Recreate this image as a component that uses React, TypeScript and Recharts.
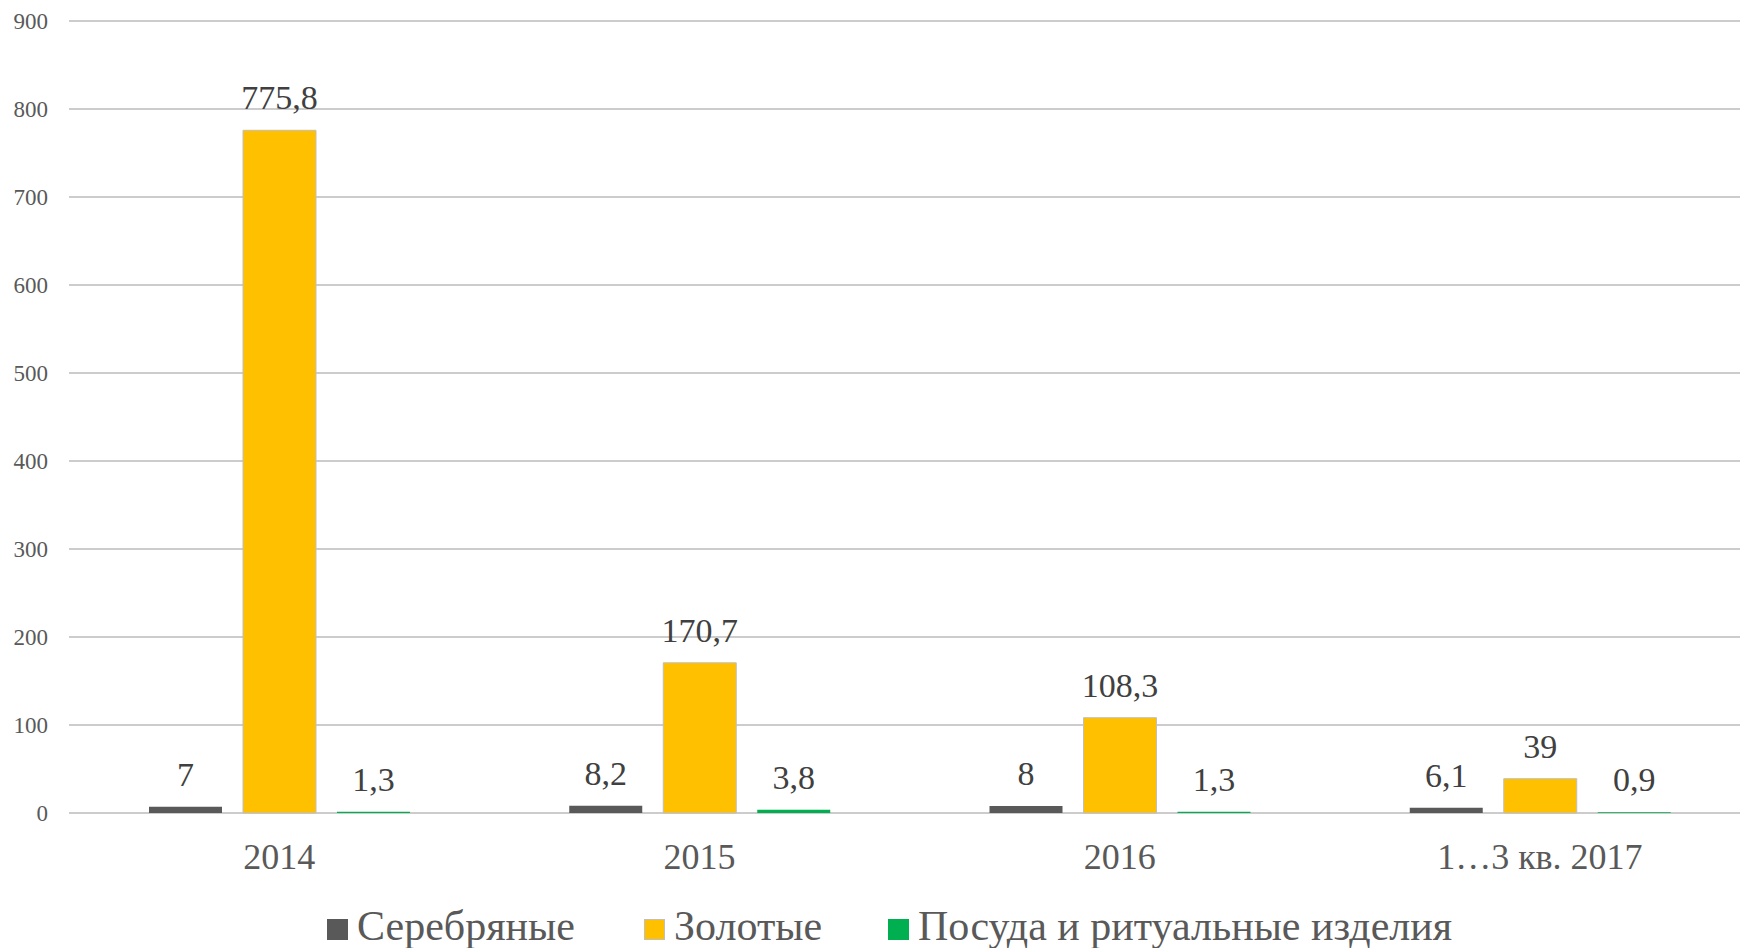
import React from 'react';
import { BarChart, Bar, XAxis, YAxis, CartesianGrid, Legend, LabelList } from 'recharts';

const categories = ['2014', '2015', '2016', '1…3 кв. 2017'];
const silverValues = [7, 8.2, 8, 6.1];
const goldValues = [775.8, 170.7, 108.3, 39];
const tablewareValues = [1.3, 3.8, 1.3, 0.9];
const yTicks = [0, 100, 200, 300, 400, 500, 600, 700, 800, 900];

const seriesNames = ['Серебряные', 'Золотые', 'Посуда и ритуальные изделия'];
const COLORS = ['#595959', '#FFC000', '#00B050'];

const FONT = "'Liberation Serif', 'Times New Roman', serif";

const data = categories.map((name, i) => ({
  name,
  silver: silverValues[i],
  gold: goldValues[i],
  tableware: tablewareValues[i],
}));

const fmt = (v: any) => String(v).replace('.', ',');

// legend item x positions
const legendX = [327, 644, 888];

const renderLegend = () => (
  <div style={{ position: 'relative', width: 1740, height: 48, fontFamily: FONT }}>
    {seriesNames.map((name, i) => (
      <div
        key={name}
        style={{ position: 'absolute', left: legendX[i], top: 0, display: 'flex', alignItems: 'flex-start', whiteSpace: 'nowrap' }}
      >
        <span
          style={{
            display: 'inline-block',
            width: 21,
            height: 21,
            marginTop: 13,
            marginRight: 9,
            background: COLORS[i],
            boxSizing: 'border-box',
            border: i === 1 ? '1px solid #bfbfbf' : 'none',
          }}
        />
        <span style={{ fontSize: 42, lineHeight: '40px', color: '#595959' }}>{name}</span>
      </div>
    ))}
  </div>
);

const labelStyle = { fontFamily: FONT, fontSize: 34, fill: '#404040' };

export default function App() {
  return (
    <div style={{ position: 'absolute', left: 0, top: 0, width: 1740, height: 948, overflow: 'hidden', background: '#fff' }}>
      <BarChart
        width={1750}
        height={948}
        data={data}
        margin={{ top: 21, right: 0, bottom: 0, left: 0 }}
        barSize={73}
        barGap={21}
      >
        <CartesianGrid vertical={false} stroke="#cccccc" strokeWidth={2} />
        <XAxis
          dataKey="name"
          height={135}
          axisLine={false}
          tickLine={false}
          tickSize={0}
          tickMargin={30}
          tick={{ fontFamily: FONT, fontSize: 36, fill: '#595959' }}
        />
        <YAxis
          width={69}
          domain={[0, 900]}
          ticks={yTicks}
          axisLine={false}
          tickLine={false}
          tickSize={0}
          tickMargin={21}
          tick={{ fontFamily: FONT, fontSize: 23, fill: '#595959' }}
        />
        <Legend
          layout="horizontal"
          verticalAlign="middle"
          align="center"
          content={renderLegend}
          wrapperStyle={{ left: 0, top: 906, width: 1740, height: 48 }}
        />
        <Bar dataKey="silver" name={seriesNames[0]} fill={COLORS[0]} isAnimationActive={false}>
          <LabelList dataKey="silver" position="top" offset={21} formatter={fmt} style={labelStyle} />
        </Bar>
        <Bar dataKey="gold" name={seriesNames[1]} fill={COLORS[1]} stroke="#bfbfbf" strokeWidth={1} isAnimationActive={false}>
          <LabelList dataKey="gold" position="top" offset={21} formatter={fmt} style={labelStyle} />
        </Bar>
        <Bar dataKey="tableware" name={seriesNames[2]} fill={COLORS[2]} isAnimationActive={false}>
          <LabelList dataKey="tableware" position="top" offset={21} formatter={fmt} style={labelStyle} />
        </Bar>
      </BarChart>
    </div>
  );
}
